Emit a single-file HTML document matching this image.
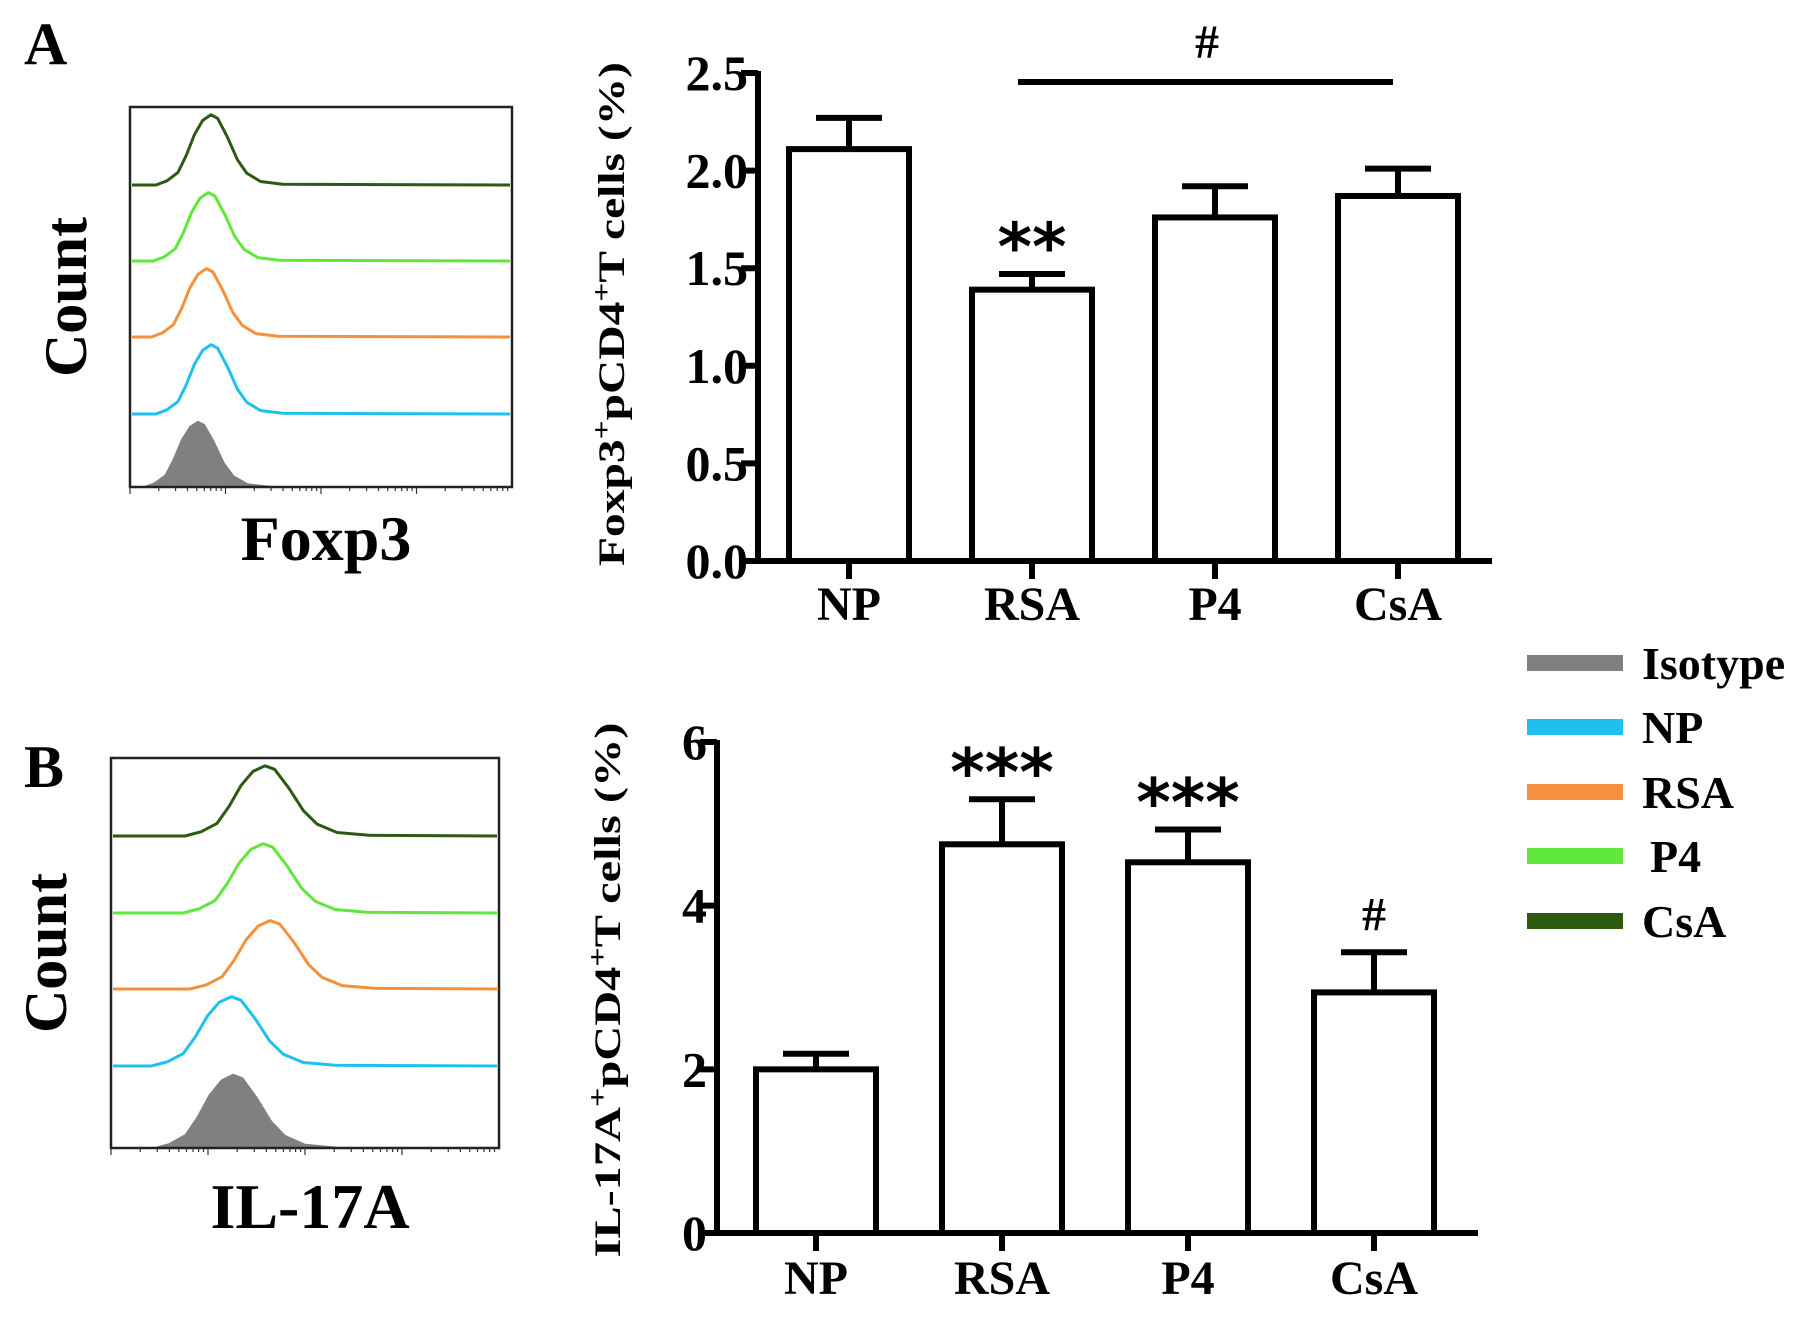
<!DOCTYPE html>
<html><head><meta charset="utf-8"><style>
html,body{margin:0;padding:0;background:#fff}
svg{display:block;font-family:"Liberation Serif",serif;font-weight:bold}
</style></head><body>
<svg id="fig" width="1819" height="1318" viewBox="0 0 1819 1318" xmlns="http://www.w3.org/2000/svg"></svg>
<script>
// ---- bar chart data ----
const categories = ["NP","RSA","P4","CsA"];
const foxMeans = [2.11, 1.39, 1.76, 1.87];
const foxErr   = [0.16, 0.08, 0.16, 0.14];
const foxTicks = ["0.0","0.5","1.0","1.5","2.0","2.5"];
const foxTickVals = [0,0.5,1,1.5,2,2.5];
const foxSig = ["", "**", "", ""];
const ilMeans = [2.0, 4.75, 4.53, 2.94];
const ilErr   = [0.19, 0.55, 0.40, 0.49];
const ilTicks = ["0","2","4","6"];
const ilTickVals = [0,2,4,6];
const ilSig = ["", "***", "***", "#"];
// ---- histogram data (peak positions as box fraction, shared shape) ----
const histGroups = ["CsA","P4","RSA","NP","Isotype"];
const histColors = ["#2d5a12","#5fe83a","#f5903c","#1ec0f0","#808080"];
const foxPeaks = [0.212, 0.205, 0.200, 0.212, 0.178];
const ilPeaks  = [0.397, 0.392, 0.410, 0.310, 0.315];
const shapeX = [-1.0,-0.8,-0.6,-0.45,-0.3,-0.15,0,0.12,0.3,0.48,0.65,0.9,1.3];
const shapeY = [0,0.06,0.18,0.42,0.72,0.92,1,0.95,0.68,0.36,0.17,0.05,0.01];

const NS="http://www.w3.org/2000/svg";
const svg=document.getElementById('fig');
function mk(tag,attrs,parent){const e=document.createElementNS(NS,tag);for(const k in attrs)e.setAttribute(k,attrs[k]);(parent||svg).appendChild(e);return e;}
function txt(s,attrs,parent){const e=mk('text',attrs,parent);e.textContent=s;return e;}

let t;
t=txt("A",{x:24,y:64,'font-size':60});


t=txt("B",{x:24,y:787,'font-size':60});



function histogram(name,box,peaks,spread,xlabel,baselines,labelY,countX){
  const g=mk('g',{});
  
  
  const w=box.x1-box.x0;
  histGroups.forEach((grp,i)=>{
    const base=baselines[i];
    const h=(base-(i===0?box.y0:baselines[i-1]))*0.9;
    const pk=box.x0+peaks[i]*w;
    let d=`M${box.x0+2},${base}`;
    shapeX.forEach((sx,j)=>{
      const x=Math.max(box.x0+2,Math.min(box.x1-2,pk+sx*spread));
      d+=` L${x.toFixed(1)},${(base-shapeY[j]*h).toFixed(1)}`;
    });
    if(i===4){d+=` L${pk+1.3*spread},${base} Z`;}
    else d+=` L${box.x1-2},${base}`;
    const p=mk('path',{d:d,fill:i===4?histColors[i]:'none',stroke:histColors[i],'stroke-width':i===4?1:3,'stroke-linejoin':'round'},g);
    
    
  });
  const r=mk('rect',{x:box.x0,y:box.y0,width:w,height:box.y1-box.y0,fill:'none',stroke:'#222','stroke-width':2.5},g);
  
  
  for(let dec=0;dec<4;dec++){for(let k=1;k<10;k++){
    const x=box.x0+w*(dec+Math.log10(k))/4;
    mk('line',{x1:x,x2:x,y1:box.y1,y2:box.y1+(k===1?7:4),stroke:'#333','stroke-width':1.2},g);
  }}
  const c=txt("Count",{transform:`translate(${countX},${(box.y0+box.y1)/2}) rotate(-90)`,'text-anchor':'middle','font-size':60},g);
  
  
  const xl=txt(xlabel,{x:(box.x0+box.x1)/2+5,y:labelY,'text-anchor':'middle','font-size':64},g);
  
  
}
histogram('foxp3-histogram',{x0:130,y0:107,x1:512,y1:487},foxPeaks,55,"Foxp3",[185,261,337,414,487],560,86);
histogram('il17a-histogram',{x0:111,y0:758,x1:499,y1:1148},ilPeaks,80,"IL-17A",[836,913,989,1066,1148],1228,66);

function barChart(name,o,means,errs,ticks,tickVals,sig,titleMain){
  const g=mk('g',{});
  
  
  const y=v=>o.y0-(v/o.vmax)*(o.y0-o.ytop);
  const cx=i=>o.ax+o.off+i*o.step;
  means.forEach((m,i)=>{
    const top=y(m+errs[i]);
    const l=mk('line',{x1:cx(i),x2:cx(i),y1:y(m),y2:top,stroke:'#000','stroke-width':6},g);
    
    
    mk('line',{x1:cx(i)-33,x2:cx(i)+33,y1:top,y2:top,stroke:'#000','stroke-width':6},g);
    const b=mk('rect',{x:cx(i)-60,y:y(m),width:120,height:o.y0-y(m),fill:'#fff',stroke:'#000','stroke-width':6},g);
    
    
    if(sig[i]){
      const isStar=sig[i][0]==='*';
      const s=txt(sig[i],{x:cx(i),y:top-(isStar?4:22),'text-anchor':'middle','font-size':isStar?66:48,'font-family':isStar?'"DejaVu Sans",sans-serif':'"Liberation Serif",serif'},g);
      
      
    }
    const lab=txt(categories[i],{x:cx(i),y:o.labY,'text-anchor':'middle','font-size':48},g);
    
    
    mk('line',{x1:cx(i),x2:cx(i),y1:o.y0,y2:o.y0+18,stroke:'#000','stroke-width':6},g);
  });
  const ya=mk('line',{x1:o.ax,x2:o.ax,y1:o.ytop-2,y2:o.y0+3,stroke:'#000','stroke-width':6},g);
  
  
  const xa=mk('line',{x1:o.ax-3,x2:o.xend,y1:o.y0,y2:o.y0,stroke:'#000','stroke-width':6},g);
  
  
  tickVals.forEach((v,i)=>{
    mk('line',{x1:o.ax-17,x2:o.ax,y1:y(v),y2:y(v),stroke:'#000','stroke-width':6},g);
    const tl=txt(ticks[i],{x:o.ax-10,y:y(v)+17,'text-anchor':'end','font-size':50},g);
    
    
  });
  const tt=mk('text',{transform:`translate(${o.tx},${o.ty}) rotate(-90)`,'text-anchor':'middle','font-size':37,textLength:o.tlen,lengthAdjust:'spacingAndGlyphs'},g);
  
  
  const parts=[[titleMain,0],["+",1],["pCD4",0],["+",1],["T cells  (%)",0]];
  parts.forEach(p=>{const s=mk('tspan',p[1]?{'baseline-shift':'super','font-size':26}:{},tt);s.textContent=p[0];});
}
barChart('foxp3-bar-chart',{ax:758,y0:561,ytop:73,vmax:2.5,off:91,step:183,xend:1492,tx:624,ty:314,tlen:504,labY:620},foxMeans,foxErr,foxTicks,foxTickVals,foxSig,"Foxp3");
const sl=mk('line',{x1:1018,x2:1393,y1:82,y2:82,stroke:'#000','stroke-width':6});


t=txt("#",{x:1207,y:58,'text-anchor':'middle','font-size':48});


barChart('il17a-bar-chart',{ax:717,y0:1233,ytop:742,vmax:6,off:99,step:186,xend:1478,tx:620,ty:990,tlen:535,labY:1294},ilMeans,ilErr,ilTicks,ilTickVals,ilSig,"IL-17A");

const legend=mk('g',{});


const legY=[663,727,792,856,921];
histGroups.slice().reverse().forEach((grp,k)=>{
  const i=4-k;
  const r=mk('rect',{x:1527,y:legY[k]-8,width:96,height:16,fill:histColors[i]},legend);
  
  
  const lt=txt(grp,{x:grp==="P4"?1650:1642,y:legY[k]+16,'font-size':46},legend);
  
  
});
</script>
</body></html>
